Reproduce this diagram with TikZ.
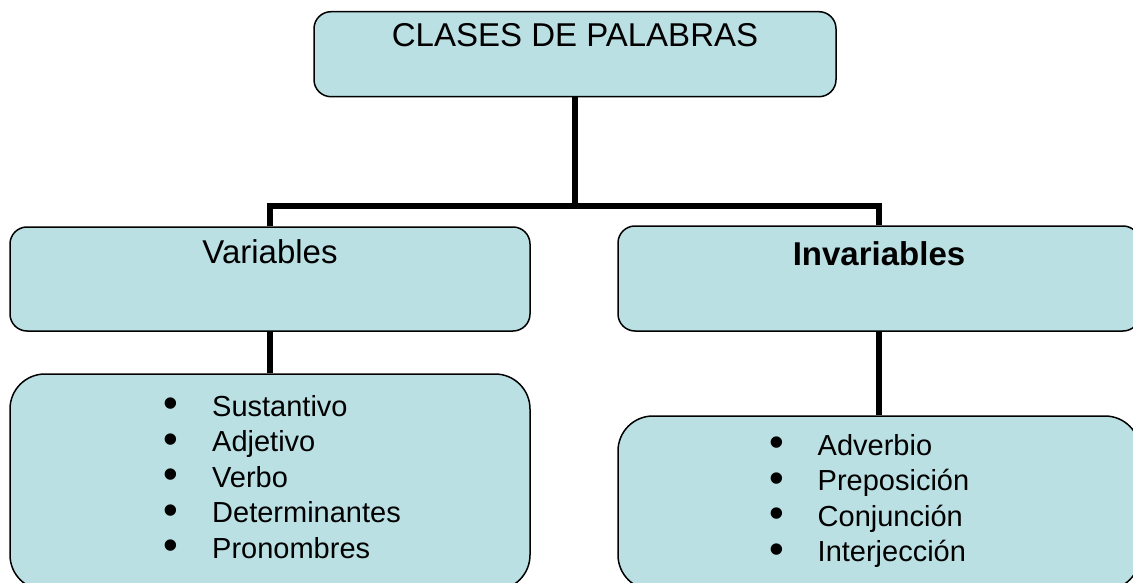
\documentclass[tikz,border=0pt]{standalone}
\usepackage{fontspec}
\usepackage{graphicx}
\setmainfont{Liberation Sans}
\definecolor{boxfill}{RGB}{186,224,227}
\newcommand{\bigbul}{\smash{\raisebox{-1.5pt}{\scalebox{1.45}{\textbullet}}}}
\begin{document}
\begin{tikzpicture}[x=1pt,y=-1pt,
  box/.style={draw=black, line width=1.5pt, fill=boxfill, rounded corners=17pt,
    rectangle, inner sep=0pt},
  listbox/.style={box, rounded corners=35pt},
  conn/.style={draw=black, line width=6pt, line join=miter},
  title/.style={anchor=base, inner sep=0pt, font=\fontsize{33}{38}\selectfont},
  item/.style={anchor=base west, inner sep=0pt, font=\fontsize{29}{34}\selectfont}
]
\useasboundingbox (0,0) rectangle (1133,583);
% boxes
\node[box, minimum width=522pt, minimum height=85pt] (top) at (575,54.2) {};
\node[box, minimum width=520pt, minimum height=104pt] (var) at (270,279) {};
\node[box, minimum width=522pt, minimum height=105pt] (inv) at (879,278.5) {};
\node[listbox, minimum width=520pt, minimum height=216pt] (vl) at (270,482) {};
\node[listbox, minimum width=522pt, minimum height=174pt] (il) at (879,503) {};
% titles
\node[title] (tt) at (575,46.7) {CLASES DE PALABRAS};
\node[title] (tv) at (270,263.3) {Variables};
\node[title] (ti) at (879,265) {\bfseries Invariables};
% lists
\foreach \t [count=\i from 0] in {Sustantivo,Adjetivo,Verbo,Determinantes,Pronombres}
  \node[item] (v\i) at (163.6,416+35.5*\i) {\makebox[48.4pt][l]{\bigbul}\t};
\foreach \t [count=\i from 0] in {Adverbio,Preposición,Conjunción,Interjección}
  \node[item] (n\i) at (769.3,455+35.6*\i) {\makebox[48.2pt][l]{\bigbul}\t};
% connectors
\coordinate (j) at (575,206);
\draw[conn] (top.south) -- (j);
\draw[conn] (var.north) |- (j) -| (inv.north);
\draw[conn] (var.south) -- (vl.north);
\draw[conn] (inv.south) -- (il.north);
\end{tikzpicture}
\end{document}
